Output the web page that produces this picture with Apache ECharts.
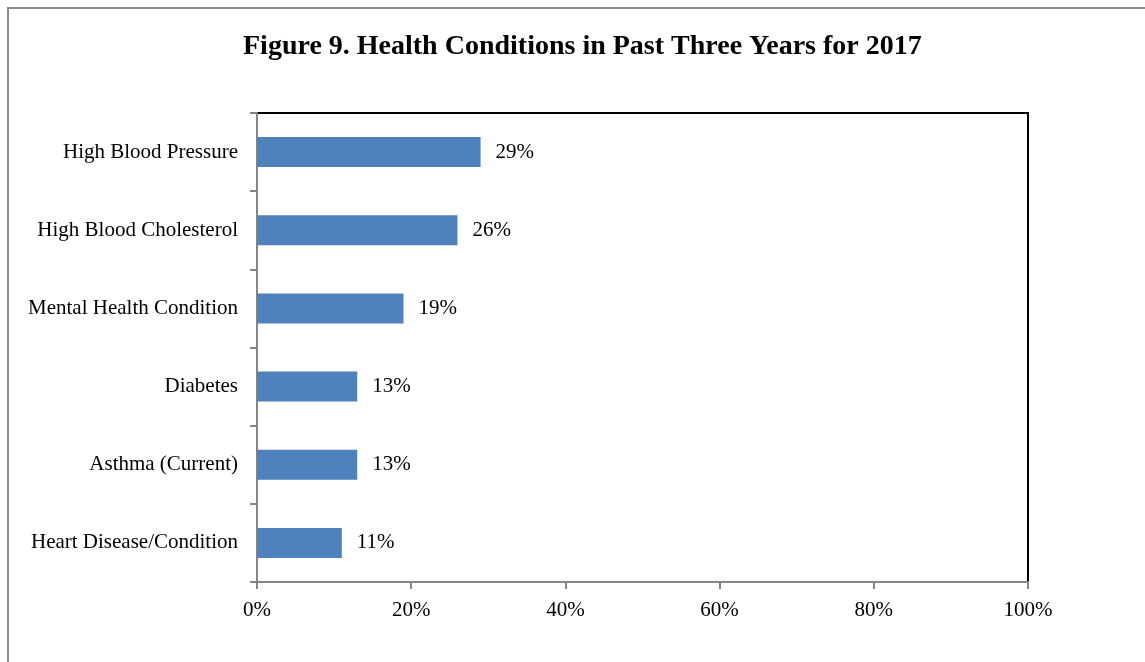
<!DOCTYPE html>
<html>
<head>
<meta charset="utf-8">
<script src="https://cdn.jsdelivr.net/npm/echarts@6/dist/echarts.min.js"></script>
<style>
html,body{margin:0;padding:0;background:#fff;}
#chart{width:1145px;height:662px;}
</style>
</head>
<body>
<div id="chart"></div>
<script>
// Share of respondents reporting each condition (top to bottom)
const categories = [
  'High Blood Pressure',
  'High Blood Cholesterol',
  'Mental Health Condition',
  'Diabetes',
  'Asthma (Current)',
  'Heart Disease/Condition'
];
const values = [0.29, 0.26, 0.19, 0.13, 0.13, 0.11];
const titleText = 'Figure 9. Health Conditions in Past Three Years for 2017';

const serif = '"Liberation Serif", "Times New Roman", serif';
const chart = echarts.init(document.getElementById('chart'));

chart.setOption({
  backgroundColor: '#fff',
  animation: false,
  title: {
    text: titleText,
    left: 238,
    top: 28,
    textStyle: { fontFamily: serif, fontWeight: 'bold', fontSize: 28, color: '#000' }
  },
  graphic: [{
    type: 'rect',
    shape: { x: 8, y: 8, width: 1300, height: 800 },
    style: { fill: 'none', stroke: '#8c8c8c', lineWidth: 2 },
    silent: true
  }],
  grid: {
    left: 257, right: 117, top: 113, bottom: 80,
    show: true, borderColor: '#000', borderWidth: 2, backgroundColor: 'transparent'
  },
  xAxis: {
    type: 'value',
    min: 0, max: 1, interval: 0.2,
    splitLine: { show: false },
    axisLine: { show: true, lineStyle: { color: '#868686', width: 2 } },
    axisTick: { show: true, length: 7, lineStyle: { color: '#868686', width: 2 } },
    axisLabel: {
      margin: 18,
      fontFamily: serif, fontSize: 21, color: '#000',
      formatter: v => Math.round(v * 100) + '%'
    }
  },
  yAxis: {
    type: 'category',
    data: categories,
    inverse: true,
    axisLine: { show: true, lineStyle: { color: '#868686', width: 2 } },
    axisTick: { show: true, length: 7, lineStyle: { color: '#868686', width: 2 } },
    axisLabel: { margin: 19, fontFamily: serif, fontSize: 21, color: '#000' }
  },
  series: [{
    type: 'bar',
    data: values,
    barWidth: 30,
    itemStyle: { color: '#4F81BD' },
    label: {
      show: true,
      position: 'right',
      distance: 15,
      fontFamily: serif, fontSize: 21, color: '#000',
      formatter: p => Math.round(p.value * 100) + '%'
    }
  }]
});
</script>
</body>
</html>
